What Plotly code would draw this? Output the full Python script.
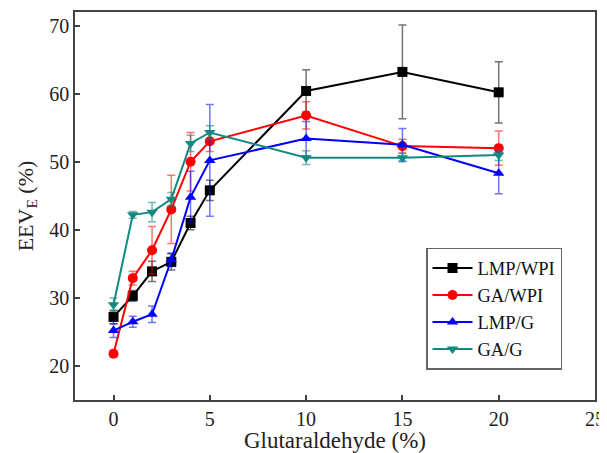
import plotly.graph_objects as go

x_vals = [0, 1, 2, 3, 4, 5, 10, 15, 20]

lmp_wpi = [27.2, 30.3, 33.9, 35.3, 41.0, 45.8, 60.4, 63.2, 60.2]
lmp_wpi_err = [1.0, 0.8, 1.5, 1.2, 1.0, 1.5, 3.1, 6.9, 4.5]

ga_wpi = [21.8, 32.9, 37.0, 43.0, 50.0, 53.0, 56.8, 52.3, 52.0]
ga_wpi_err = [0.5, 1.0, 3.5, 5.0, 4.3, 1.5, 2.0, 1.0, 2.5]

lmp_g = [25.2, 26.5, 27.6, 35.6, 44.8, 50.2, 53.4, 52.5, 48.3]
lmp_g_err = [1.0, 0.8, 1.2, 1.0, 3.8, 8.2, 2.5, 2.4, 3.0]

ga_g = [29.0, 42.2, 42.6, 44.5, 52.7, 54.3, 50.6, 50.6, 51.0]
ga_g_err = [1.0, 0.5, 1.4, 1.0, 1.2, 1.0, 1.0, 0.6, 0.8]

series = [
    ("LMP/WPI", lmp_wpi, lmp_wpi_err, "#000000", "rgba(0,0,0,0.55)", "square"),
    ("GA/WPI", ga_wpi, ga_wpi_err, "#ff0000", "rgba(255,0,0,0.55)", "circle"),
    ("LMP/G", lmp_g, lmp_g_err, "#0000ff", "rgba(0,0,255,0.55)", "triangle-up"),
    ("GA/G", ga_g, ga_g_err, "#138a80", "rgba(19,138,128,0.6)", "triangle-down"),
]

fig = go.Figure()
for name, ys, errs, col, ecol, sym in series:
    fig.add_trace(go.Scatter(
        x=x_vals, y=ys, name=name, mode="lines+markers",
        line=dict(color=col, width=2),
        marker=dict(color=col, size=10, symbol=sym),
        error_y=dict(type="data", array=errs, visible=True, color=ecol, thickness=1.5, width=4),
    ))

font_family = "Liberation Serif"
# page body has an 8px default margin, so the figure is sized/offset to compensate
fig.update_layout(
    width=599, height=445,
    margin=dict(l=67, r=12, t=4, b=53),
    paper_bgcolor="white", plot_bgcolor="white",
    font=dict(family=font_family, size=20, color="#222"),
    showlegend=True,
    legend=dict(
        x=0.675, y=0.392, xanchor="left", yanchor="top",
        bgcolor="white", bordercolor="#666", borderwidth=1.5,
        font=dict(family=font_family, size=18.5, color="#111"),
        tracegroupgap=0, itemwidth=40,
    ),
)
fig.update_xaxes(
    range=[-2, 25], tickvals=[0, 5, 10, 15, 20, 25],
    ticks="inside", ticklen=5, tickwidth=1.5, tickcolor="#444",
    showline=True, linecolor="#444", linewidth=1.5, mirror=True,
    showgrid=False, zeroline=False, automargin=False,
    tickfont=dict(family=font_family, size=20),
    title=dict(text="Glutaraldehyde (%)", font=dict(family=font_family, size=23), standoff=0),
)
fig.update_yaxes(
    range=[15, 72], tickvals=[20, 30, 40, 50, 60, 70],
    ticks="inside", ticklen=5, tickwidth=1.5, tickcolor="#444",
    showline=True, linecolor="#444", linewidth=1.5, mirror=True,
    showgrid=False, zeroline=False, automargin=False,
    tickfont=dict(family=font_family, size=20),
    title=dict(text="EEV<sub>E</sub> (%)", font=dict(family=font_family, size=22), standoff=10),
)

fig.write_html("out.html")
